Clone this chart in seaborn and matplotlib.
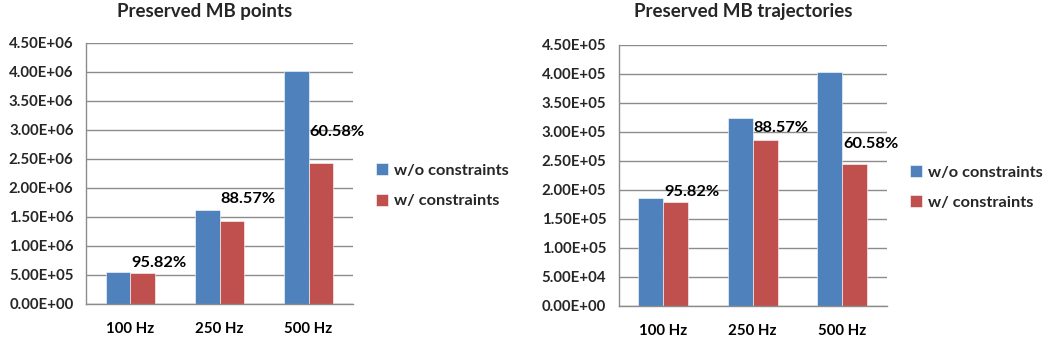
import numpy as np
import pandas as pd
import matplotlib
matplotlib.use("Agg")
import matplotlib.pyplot as plt
import seaborn as sns

# ---- donnees ----
freqs = ["100 Hz", "250 Hz", "500 Hz"]
series = ["w/o constraints", "w/ constraints"]

points_wo = [5.50e5, 1.62e6, 4.02e6]
points_w = [5.27e5, 1.435e6, 2.435e6]

traj_wo = [1.864e5, 3.234e5, 4.028e5]
traj_w = [1.786e5, 2.864e5, 2.44e5]

ratios = ["95.82%", "88.57%", "60.58%"]
points_label_y = [7.07e5, 1.81e6, 2.97e6]
traj_label_y = [1.967e5, 3.06e5, 2.79e5]

points_ticks = np.arange(0, 4.5e6 + 1, 5e5)
traj_ticks = np.arange(0, 4.5e5 + 1, 5e4)

colors = ["#4F81BD", "#C0504D"]
grid_col = "#8C8C8C"

sns.set_theme(style="white")
plt.rcParams['font.family'] = ['Lato', 'DejaVu Sans']
plt.rcParams['font.weight'] = 'bold'


def make_df(wo, w):
    rows = []
    for f, a, b in zip(freqs, wo, w):
        rows.append({"freq": f, "series": series[0], "value": a})
        rows.append({"freq": f, "series": series[1], "value": b})
    return pd.DataFrame(rows)


def draw_panel(ax, df, ticks, label_y, title, title_x):
    sns.barplot(data=df, x="freq", y="value", hue="series", palette=colors,
                width=0.56, gap=0, ax=ax, saturation=1,
                edgecolor="white", linewidth=0.4)
    ax.set_ylim(0, ticks[-1])
    ax.set_xlim(-0.5, 2.5)
    ax.set_yticks(ticks)
    ax.set_yticklabels([f"{t:.2E}" for t in ticks], fontsize=10.8, fontweight="bold")
    ax.set_xticks(range(3))
    ax.set_xticklabels(freqs, fontsize=10.8, fontweight="bold")
    ax.set_xticks([-0.5, 0.5, 1.5, 2.5], minor=True)
    ax.tick_params(axis="x", which="major", length=0, pad=13, colors="black")
    ax.tick_params(axis="x", which="minor", length=5, width=1, color=grid_col, direction="out")
    ax.tick_params(axis="y", length=5, width=1, color=grid_col, direction="out", pad=4)
    ax.set_xlabel("")
    ax.set_ylabel("")
    ax.yaxis.grid(True, color=grid_col, linewidth=1)
    ax.set_axisbelow(True)
    for s in ["top", "right"]:
        ax.spines[s].set_visible(False)
    for s in ["left", "bottom"]:
        ax.spines[s].set_color(grid_col)
        ax.spines[s].set_linewidth(1)
    # pourcentages au-dessus des barres rouges
    for i, (txt, y) in enumerate(zip(ratios, label_y)):
        ax.text(i + 0.01, y, txt, ha="left", va="center", fontsize=11.8,
                fontweight="bold", color="black")
    leg = ax.legend(loc="center left", bbox_to_anchor=(1.03, 0.453), frameon=False,
                    fontsize=11.8, handlelength=0.75, handleheight=0.75,
                    handletextpad=0.35, labelspacing=0.95)
    for t in leg.get_texts():
        t.set_fontweight("bold")
    ax.figure.text(title_x, 0.966, title, ha="center", va="center",
                   fontsize=13.5, fontweight="bold")


fig = plt.figure(figsize=(10.5, 3.38), dpi=100)
ax1 = fig.add_axes([0.0819, 0.1006, 0.2543, 0.7722])
ax2 = fig.add_axes([0.5892, 0.0956, 0.2553, 0.7713])

draw_panel(ax1, make_df(points_wo, points_w), points_ticks, points_label_y,
           "Preserved MB points", 204.5 / 1050)
draw_panel(ax2, make_df(traj_wo, traj_w), traj_ticks, traj_label_y,
           "Preserved MB trajectories", 743 / 1050)

fig.savefig("out.png", dpi=100)
